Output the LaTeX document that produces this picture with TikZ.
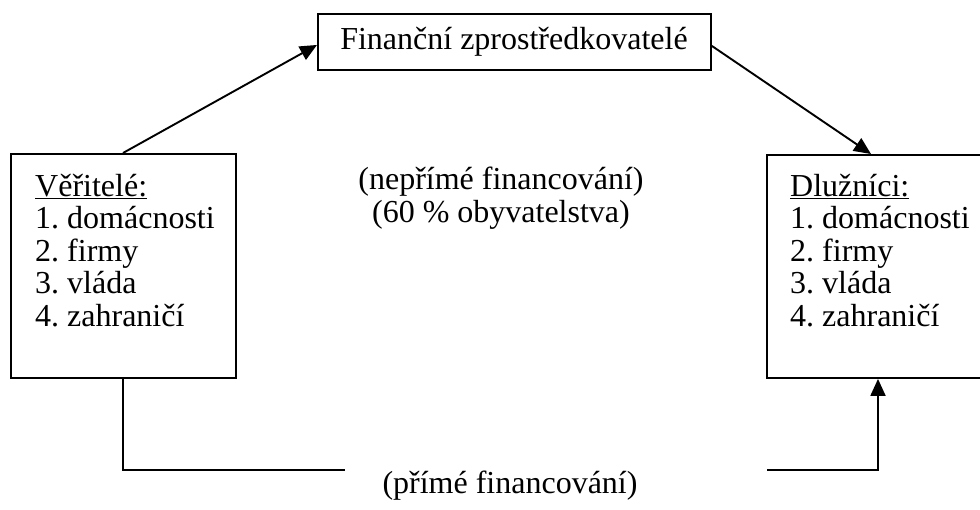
\documentclass[tikz,border=0pt]{standalone}
\usepackage{fontspec}
\setmainfont{Liberation Serif}
\usetikzlibrary{arrows.meta}
\begin{document}
\frenchspacing
\begin{tikzpicture}[x=1pt,y=-1pt,
  box/.style={draw, line width=1.9pt, rectangle, inner sep=0pt, anchor=north west},
  conn/.style={line width=1.9pt},
  arr/.style={conn, -{Triangle[length=17pt,width=15pt]}},
  txt/.style={inner sep=0pt, font=\fontsize{32}{32.5}\selectfont\frenchspacing},
  listtxt/.style={txt, align=left, anchor=base west}]
\useasboundingbox (0,0) rectangle (980,509);
% boxes
\node[box, minimum width=225pt, minimum height=224pt] (ver) at (10,153) {};
\node[box, minimum width=393pt, minimum height=56pt] (fin) at (317,13) {};
\node[box, minimum width=220pt, minimum height=223pt] (dlu) at (766,154) {};
% texts
\node[txt] (fintxt) at (514,42) {Finanční zprostředkovatelé};
\node[listtxt] (vertxt) at (35,326) {\underline{Věřitelé:}\\1. domácnosti\\2. firmy\\3. vláda\\4. zahraničí};
\node[listtxt] (dlutxt) at (790,326) {\underline{Dlužníci:}\\1. domácnosti\\2. firmy\\3. vláda\\4. zahraničí};
\node[txt, align=center, anchor=base] (neprime) at (501,222) {(nepřímé financování)\\(60 \% obyvatelstva)};
\node[txt, anchor=base] (prime) at (510,493) {(přímé financování)};
% connectors
\coordinate (bl) at (345,470);
\coordinate (br) at (767,470);
\draw[arr] ([xshift=113pt]ver.north west) -- ([yshift=-3pt]fin.west);
\draw[arr] ([yshift=-4pt]fin.east) -- ([xshift=105pt]dlu.north west);
\draw[conn] ([xshift=113pt]ver.south west) |- (bl);
\draw[arr] (br) -| ([xshift=112pt]dlu.south west);
\end{tikzpicture}
\end{document}
